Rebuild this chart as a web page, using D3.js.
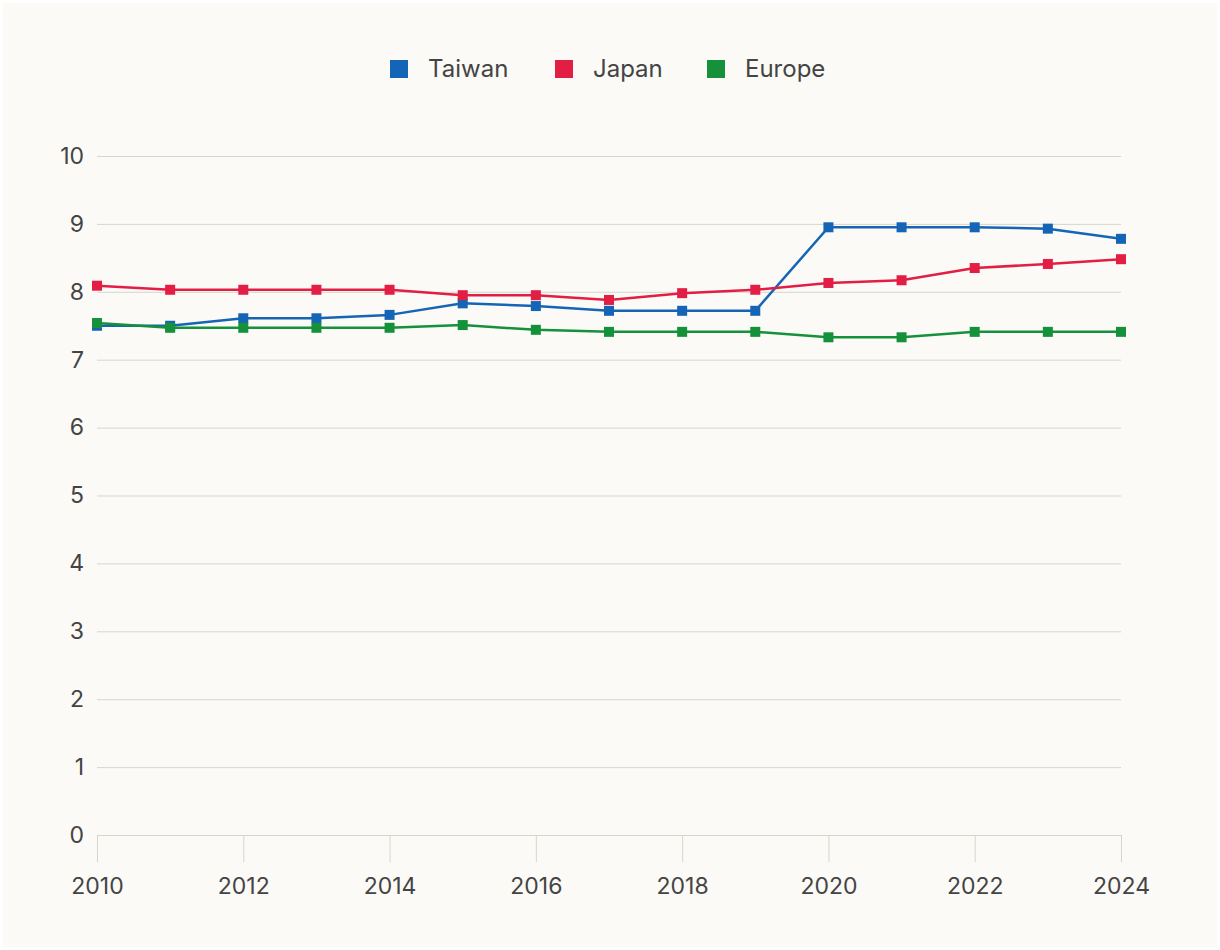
<!DOCTYPE html>
<html>
<head>
<meta charset="utf-8">
<script src="https://cdn.jsdelivr.net/npm/d3@7"></script>
<style>
  html, body { margin: 0; padding: 0; background: #ffffff; }
  svg { display: block; }
  text { font-family: Inter, "Noto Sans", sans-serif; }
</style>
</head>
<body>
<svg id="chart" width="1220" height="950"></svg>
<script>
const years = [2010, 2011, 2012, 2013, 2014, 2015, 2016, 2017, 2018, 2019, 2020, 2021, 2022, 2023, 2024];
const taiwan = [7.50, 7.50, 7.61, 7.61, 7.66, 7.83, 7.79, 7.72, 7.72, 7.72, 8.95, 8.95, 8.95, 8.93, 8.78];
const japan  = [8.09, 8.03, 8.03, 8.03, 8.03, 7.95, 7.95, 7.88, 7.98, 8.03, 8.13, 8.17, 8.35, 8.41, 8.48];
const europe = [7.54, 7.47, 7.47, 7.47, 7.47, 7.51, 7.44, 7.41, 7.41, 7.41, 7.33, 7.33, 7.41, 7.41, 7.41];
const seriesNames = ["Taiwan", "Japan", "Europe"];
const seriesColors = ["#1565b6", "#e21e45", "#14913a"];
const yTicks = [0, 1, 2, 3, 4, 5, 6, 7, 8, 9, 10];
const xTicks = [2010, 2012, 2014, 2016, 2018, 2020, 2022, 2024];

const series = [taiwan, japan, europe].map((vals, i) => ({
  name: seriesNames[i], color: seriesColors[i],
  points: years.map((y, j) => ({ year: y, value: vals[j] }))
}));

const svg = d3.select("#chart");
svg.append("rect").attr("x", 3).attr("y", 3).attr("width", 1214).attr("height", 944).attr("fill", "#fbfaf6");

const x = d3.scaleLinear().domain([2010, 2024]).range([97, 1121]);
const y = d3.scaleLinear().domain([0, 10]).range([835, 156]);

// gridlines
const grid = svg.append("g")
  .attr("transform", "translate(97,0)")
  .call(d3.axisLeft(y).tickValues(yTicks).tickSize(-(1121 - 97)).tickFormat(""));
grid.select(".domain").remove();
grid.selectAll("line").attr("stroke", "#d8d5cf").attr("stroke-width", 1);

// y labels
const yAxis = svg.append("g")
  .attr("transform", "translate(97,0)")
  .call(d3.axisLeft(y).tickValues(yTicks).tickSize(0).tickPadding(13).tickFormat(d3.format("d")));
yAxis.select(".domain").remove();
yAxis.selectAll("text").attr("fill", "#444").attr("font-size", 23).attr("font-family", "Inter, sans-serif");

// x axis
const xAxis = svg.append("g")
  .attr("transform", "translate(0,835)")
  .call(d3.axisBottom(x).tickValues(xTicks).tickSize(27).tickPadding(16).tickFormat(d3.format("d")));
xAxis.select(".domain").attr("stroke", "#d8d5cf");
xAxis.selectAll("line").attr("stroke", "#d8d5cf");
xAxis.selectAll("text").attr("fill", "#444").attr("font-size", 23).attr("font-family", "Inter, sans-serif");

// lines
const line = d3.line().x(d => x(d.year)).y(d => y(d.value));
const g = svg.append("g");
series.forEach(s => {
  g.append("path").datum(s.points)
    .attr("fill", "none").attr("stroke", s.color).attr("stroke-width", 2.5)
    .attr("stroke-linejoin", "round")
    .attr("d", line);
});
series.forEach(s => {
  g.selectAll(null).data(s.points).enter().append("rect")
    .attr("x", d => x(d.year) - 5).attr("y", d => y(d.value) - 5)
    .attr("width", 10).attr("height", 10)
    .attr("fill", s.color);
});

// legend
const legendX = [390, 555, 707];
const legend = svg.append("g");
series.forEach((s, i) => {
  const lg = legend.append("g").attr("transform", `translate(${legendX[i]},60)`);
  lg.append("rect").attr("width", 18).attr("height", 18).attr("fill", s.color);
  lg.append("text").attr("x", 38).attr("y", 9).attr("dy", "0.35em")
    .attr("font-size", 24).attr("fill", "#444").text(s.name);
});
</script>
</body>
</html>
